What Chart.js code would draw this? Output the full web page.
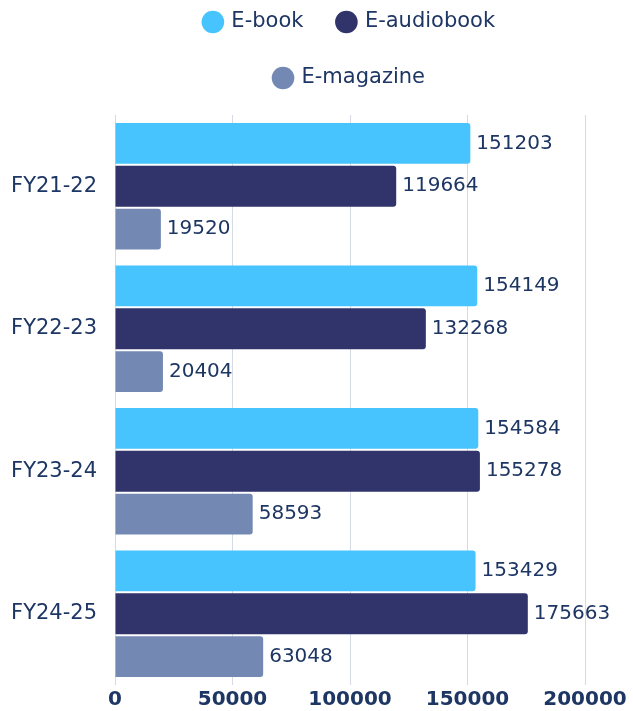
<!DOCTYPE html>
<html>
<head>
<meta charset="utf-8">
<script src="https://cdn.jsdelivr.net/npm/chart.js@4.4.1/dist/chart.umd.min.js"></script>
<style>
  html, body { margin: 0; padding: 0; background: #ffffff; }
  #wrap { width: 633px; height: 711px; position: relative; }
</style>
</head>
<body>
<div id="wrap"><canvas id="grafica"></canvas></div>
<script>
// data
const years = ["FY21-22", "FY22-23", "FY23-24", "FY24-25"];
const ebook = [151203, 154149, 154584, 153429];
const eaudiobook = [119664, 132268, 155278, 175663];
const emagazine = [19520, 20404, 58593, 63048];
const xTicks = [0, 50000, 100000, 150000, 200000];

const navy = "#1e3663";

Chart.defaults.font.family = "'DejaVu Sans', sans-serif";
Chart.defaults.color = navy;

// numbers at the end of each bar
const valueLabels = {
    id: "valueLabels",
    afterDatasetsDraw: function(chart) {
        const ctx = chart.ctx;
        ctx.save();
        ctx.font = "20px 'DejaVu Sans', sans-serif";
        ctx.fillStyle = navy;
        ctx.textAlign = "left";
        ctx.textBaseline = "middle";
        chart.data.datasets.forEach(function(ds, i) {
            const meta = chart.getDatasetMeta(i);
            meta.data.forEach(function(bar, j) {
                ctx.fillText(String(ds.data[j]), bar.x + 6, bar.y);
            });
        });
        ctx.restore();
    }
};

const ctx = document.getElementById("grafica").getContext("2d");
const chart = new Chart(ctx, {
    type: "bar",
    data: {
        labels: years,
        datasets: [
            { label: "E-book", data: ebook, backgroundColor: "#47c4fd" },
            { label: "E-audiobook", data: eaudiobook, backgroundColor: "#30346a" },
            { label: "E-magazine", data: emagazine, backgroundColor: "#7389b3" }
        ]
    },
    options: {
        indexAxis: "y",
        animation: false,
        responsive: true,
        maintainAspectRatio: false,
        datasets: {
            bar: {
                categoryPercentage: 0.902,
                barPercentage: 0.953,
                borderWidth: 0,
                borderRadius: 3
            }
        },
        layout: {
            padding: { top: -23.5, left: 0, right: 48, bottom: -4 }
        },
        plugins: {
            legend: {
                position: "top",
                fullSize: false,
                labels: {
                    usePointStyle: true,
                    pointStyle: "circle",
                    boxWidth: 16,
                    boxHeight: 16,
                    padding: 35,
                    color: navy,
                    font: { size: 21 }
                }
            },
            subtitle: {
                display: true,
                text: "",
                weight: 500,
                padding: { top: 0, bottom: 4.5 },
                font: { size: 10 }
            },
            tooltip: { enabled: false }
        },
        scales: {
            x: {
                min: 0,
                max: 200000,
                afterBuildTicks: function(scale) {
                    scale.ticks = xTicks.map(function(v) { return { value: v }; });
                },
                grid: { color: "#d5dae5", drawTicks: false },
                border: { display: false },
                ticks: {
                    padding: 3,
                    color: navy,
                    font: { size: 20, weight: "bold" },
                    callback: function(value) { return String(value); }
                }
            },
            y: {
                grid: { display: false, drawTicks: true, tickLength: 15 },
                border: { display: false },
                afterFit: function(scale) { scale.width = 115; },
                ticks: {
                    padding: 3,
                    color: navy,
                    font: { size: 21 }
                }
            }
        }
    },
    plugins: [valueLabels]
});
</script>
</body>
</html>
